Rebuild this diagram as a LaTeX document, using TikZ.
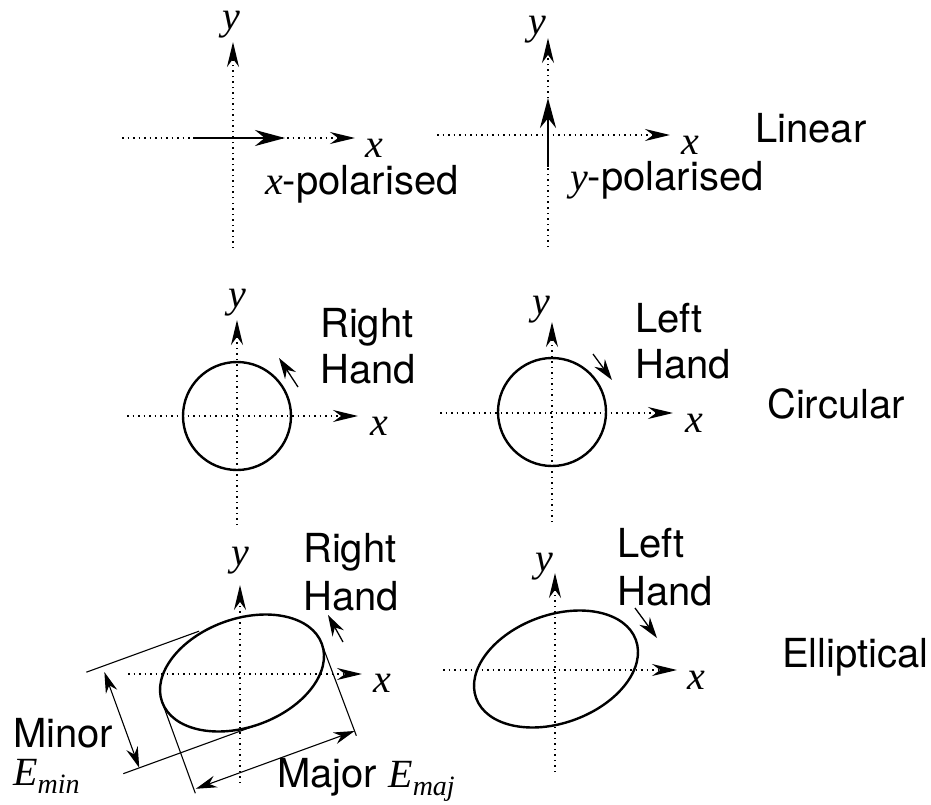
\documentclass[tikz,border=0pt]{standalone}
\usepackage{fontspec}
\setmainfont{TeX Gyre Heros}
\newfontfamily\tms{Liberation Serif}
\usetikzlibrary{arrows.meta}
\begin{document}
\begin{tikzpicture}[x=1pt,y=-1pt,
  lbl/.style={font=\fontsize{40}{46}\selectfont, inner sep=0pt, anchor=base west},
  ml/.style={font=\tms\itshape\fontsize{40}{46}\selectfont, inner sep=0pt},
  axis/.style={line width=1.5pt, dash pattern=on 1.5pt off 4pt, -{Stealth[length=25pt,width=12pt]}},
  polarrow/.style={line width=2.8pt, -{Stealth[length=30pt,width=16pt]}},
  handarrow/.style={line width=1.3pt, -{Stealth[length=21pt,width=13pt]}},
  curve/.style={line width=2.4pt},
  tang/.style={line width=1.1pt},
  dimarrow/.style={line width=1.1pt, {Stealth[length=21pt,width=12pt]}-{Stealth[length=21pt,width=12pt]}}
]
\useasboundingbox (0,0) rectangle (931,805);

% ---------- Linear, x-polarised ----------
\coordinate (a1w) at (122,138); \coordinate (a1e) at (355,138);
\coordinate (a1s) at (233,248); \coordinate (a1n) at (233,42);
\coordinate (p1s) at (193,138); \coordinate (p1e) at (285,138);
\draw[axis] (a1w) -- (a1e);
\draw[axis] (a1s) -- (a1n);
\draw[polarrow] (p1s) -- (p1e);
\node[ml] (y1) at (231,25) {y};
\node[ml] (x1) at (374,148) {x};
\node[lbl] (xpol) at (265,194) {{\tms\itshape x}-polarised};

% ---------- Linear, y-polarised ----------
\coordinate (a2w) at (437,135); \coordinate (a2e) at (670,135);
\coordinate (a2s) at (548,247); \coordinate (a2n) at (548,38);
\coordinate (p2s) at (548,167); \coordinate (p2e) at (548,98);
\draw[axis] (a2w) -- (a2e);
\draw[axis] (a2s) -- (a2n);
\draw[polarrow] (p2s) -- (p2e);
\node[ml] (y2) at (537,30) {y};
\node[ml] (x2) at (690,145) {x};
\node[lbl] (ypol) at (570,191) {{\tms\itshape y}-polarised};

\node[lbl] (lin) at (755,143) {Linear};

% ---------- Circular, right hand ----------
\coordinate (cc1) at (237,416);
\coordinate (a3w) at (127,416); \coordinate (a3e) at (358,416);
\coordinate (a3s) at (237,525); \coordinate (a3n) at (237,320);
\draw[axis] (a3w) -- (a3e);
\draw[axis] (a3s) -- (a3n);
\draw[curve] (cc1) circle[radius=54];
\coordinate (h3s) at (298,387); \coordinate (h3e) at (279,358);
\draw[handarrow] (h3s) -- (h3e);
\node[ml] (y3) at (237,303) {y};
\node[ml] (x3) at (379,426) {x};
\node[lbl] (r3) at (320,337) {Right};
\node[lbl] (hd3) at (320,383) {Hand};

% ---------- Circular, left hand ----------
\coordinate (cc2) at (552,412);
\coordinate (a4w) at (440,413); \coordinate (a4e) at (673,413);
\coordinate (a4s) at (552,522); \coordinate (a4n) at (552,322);
\draw[axis] (a4w) -- (a4e);
\draw[axis] (a4s) -- (a4n);
\draw[curve] (cc2) circle[radius=54];
\coordinate (h4s) at (593,354); \coordinate (h4e) at (612,380);
\draw[handarrow] (h4s) -- (h4e);
\node[ml] (y4) at (541,310) {y};
\node[ml] (x4) at (694,423) {x};
\node[lbl] (l4) at (635,332) {Left};
\node[lbl] (hd4) at (635,378) {Hand};

\node[lbl] (circ) at (767,418) {Circular};

% ---------- Elliptical, right hand ----------
\coordinate (ec1) at (242,673);
\coordinate (a5w) at (128,674); \coordinate (a5e) at (362,674);
\coordinate (a5s) at (240,783); \coordinate (a5n) at (240,585);
\draw[axis] (a5w) -- (a5e);
\draw[axis] (a5s) -- (a5n);
\begin{scope}[shift={(ec1)}, rotate=20]
  \draw[curve] (0,0) ellipse[x radius=85pt, y radius=54pt];
  \coordinate (t1a) at (-146pt,54pt);  \coordinate (t1b) at (-26pt,54pt);
  \coordinate (t2a) at (-146pt,-54pt); \coordinate (t2b) at (6pt,-54pt);
  \coordinate (t3a) at (-85pt,0pt);    \coordinate (t3b) at (-85pt,-97pt);
  \coordinate (t4a) at (85pt,-4pt);    \coordinate (t4b) at (86pt,-98pt);
  \coordinate (d1a) at (-129pt,48pt);  \coordinate (d1b) at (-129pt,-54pt);
  \coordinate (d2a) at (-83pt,-93pt);  \coordinate (d2b) at (86pt,-93pt);
\end{scope}
\draw[tang] (t1a) -- (t1b);
\draw[tang] (t2a) -- (t2b);
\draw[tang] (t3a) -- (t3b);
\draw[tang] (t4a) -- (t4b);
\draw[dimarrow] (d1a) -- (d1b);
\draw[dimarrow] (d2a) -- (d2b);
\coordinate (h5s) at (343,642); \coordinate (h5e) at (328,615);
\draw[handarrow] (h5s) -- (h5e);
\node[ml] (y5) at (240,561) {y};
\node[ml] (x5) at (382,683) {x};
\node[lbl] (r5) at (303,562) {Right};
\node[lbl] (hd5) at (303,610) {Hand};
\node[lbl] (minor) at (13,747) {Minor};
\node[lbl] (emin) at (13,785) {{\tms\itshape E\raisebox{-0.2em}{\fontsize{28}{30}\selectfont min}}};
\node[lbl] (major) at (277,787) {Major {\tms\itshape E\raisebox{-0.22em}{\fontsize{28}{30}\selectfont maj}}};

% ---------- Elliptical, left hand ----------
\coordinate (ec2) at (556,669);
\coordinate (a6w) at (443,670); \coordinate (a6e) at (677,670);
\coordinate (a6s) at (555,772); \coordinate (a6n) at (555,573);
\draw[axis] (a6w) -- (a6e);
\draw[axis] (a6s) -- (a6n);
\begin{scope}[shift={(ec2)}, rotate=20]
  \draw[curve] (0,0) ellipse[x radius=85pt, y radius=54pt];
\end{scope}
\coordinate (h6s) at (635,608); \coordinate (h6e) at (657,638);
\draw[handarrow] (h6s) -- (h6e);
\node[ml] (y6) at (544,567) {y};
\node[ml] (x6) at (696,680) {x};
\node[lbl] (l6) at (617,557) {Left};
\node[lbl] (hd6) at (617,605) {Hand};

\node[lbl] (ell) at (782,667) {Elliptical};
\end{tikzpicture}
\end{document}
